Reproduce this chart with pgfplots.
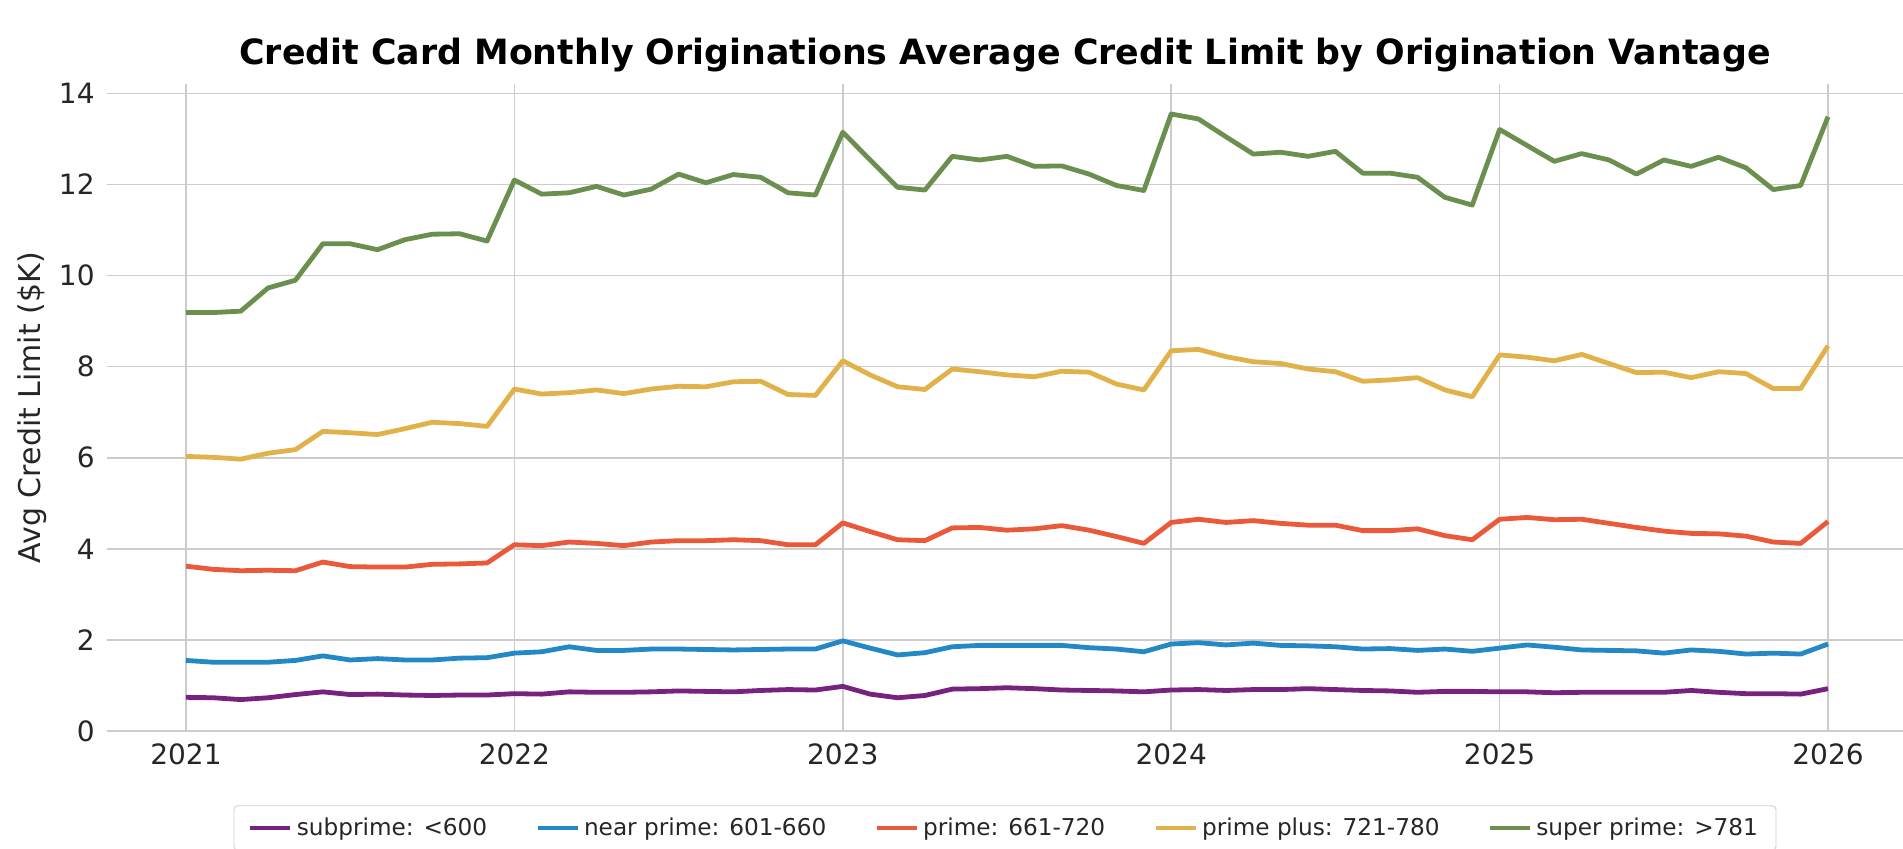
\documentclass[border=0pt]{standalone}
\usepackage{fontspec}
\setmainfont{DejaVu Sans}
\usepackage{pgfplots}
\pgfplotsset{compat=1.18}
\usepackage{pgfplotstable}
\definecolor{cSub}{HTML}{77227F}
\definecolor{cNear}{HTML}{2389C6}
\definecolor{cPrime}{HTML}{EA5A3A}
\definecolor{cPlus}{HTML}{E2B24A}
\definecolor{cSuper}{HTML}{6B8F4F}
\definecolor{gridc}{HTML}{CCCCCC}
\pgfplotstableread{
m p b r y g
0 0.74 1.55 3.62 6.03 9.19
1 0.73 1.51 3.55 6.01 9.19
2 0.69 1.51 3.52 5.97 9.22
3 0.73 1.51 3.53 6.10 9.73
4 0.80 1.55 3.52 6.18 9.90
5 0.86 1.65 3.71 6.58 10.70
6 0.80 1.56 3.61 6.55 10.70
7 0.81 1.59 3.60 6.51 10.57
8 0.79 1.56 3.60 6.64 10.79
9 0.78 1.56 3.66 6.78 10.91
10 0.79 1.60 3.67 6.75 10.92
11 0.79 1.61 3.69 6.69 10.76
12 0.82 1.71 4.09 7.51 12.10
13 0.81 1.74 4.07 7.40 11.79
14 0.86 1.85 4.15 7.43 11.82
15 0.85 1.77 4.12 7.49 11.96
16 0.85 1.77 4.07 7.41 11.77
17 0.86 1.80 4.15 7.51 11.90
18 0.88 1.80 4.18 7.57 12.23
19 0.87 1.79 4.18 7.56 12.04
20 0.86 1.78 4.20 7.67 12.22
21 0.89 1.79 4.18 7.68 12.16
22 0.91 1.80 4.09 7.39 11.82
23 0.90 1.80 4.09 7.37 11.77
24 0.98 1.98 4.57 8.13 13.15
25 0.81 1.82 4.38 7.82 12.54
26 0.73 1.67 4.20 7.56 11.94
27 0.78 1.72 4.18 7.50 11.88
28 0.92 1.85 4.46 7.95 12.62
29 0.93 1.88 4.47 7.89 12.54
30 0.95 1.88 4.41 7.82 12.62
31 0.93 1.88 4.44 7.78 12.40
32 0.90 1.88 4.51 7.90 12.41
33 0.89 1.83 4.41 7.88 12.23
34 0.88 1.80 4.27 7.62 11.98
35 0.86 1.74 4.12 7.49 11.87
36 0.90 1.91 4.58 8.35 13.55
37 0.91 1.94 4.65 8.38 13.44
38 0.89 1.89 4.58 8.22 13.05
39 0.91 1.93 4.62 8.11 12.67
40 0.91 1.88 4.56 8.07 12.71
41 0.93 1.87 4.52 7.95 12.62
42 0.91 1.85 4.52 7.89 12.73
43 0.89 1.80 4.40 7.68 12.25
44 0.88 1.81 4.40 7.71 12.25
45 0.85 1.77 4.44 7.76 12.16
46 0.87 1.80 4.29 7.49 11.72
47 0.87 1.75 4.20 7.34 11.55
48 0.86 1.82 4.65 8.26 13.21
49 0.86 1.89 4.69 8.21 12.86
50 0.84 1.84 4.64 8.13 12.51
51 0.85 1.78 4.65 8.27 12.68
52 0.85 1.77 4.56 8.07 12.54
53 0.85 1.76 4.47 7.87 12.23
54 0.85 1.71 4.39 7.88 12.54
55 0.89 1.78 4.34 7.76 12.40
56 0.85 1.75 4.33 7.89 12.60
57 0.82 1.69 4.28 7.85 12.37
58 0.82 1.71 4.15 7.52 11.89
59 0.81 1.69 4.12 7.52 11.98
60 0.93 1.91 4.60 8.46 13.49
}\data
\begin{document}
\begin{tikzpicture}
\useasboundingbox (-53.5pt,-58.5pt) rectangle (898pt,365.5pt);
\begin{axis}[
  at={(0pt,0pt)}, anchor=south west,
  scale only axis, width=898pt, height=323.3pt,
  xmin=-2.886, xmax=62.74, ymin=0, ymax=14.2,
  xtick={0,12,24,36,48,60},
  xticklabels={2021,2022,2023,2024,2025,2026},
  ytick={0,2,4,6,8,10,12,14},
  grid=major,
  major grid style={color=gridc, line width=0.75pt},
  axis line style={draw=none},
  major tick length=0pt,
  /pgf/number format/assume math mode=true,
  tick label style={font=\fontsize{14}{16}\selectfont, text=black!85},
  yticklabel style={inner sep=0pt, anchor=east, xshift=-6pt},
  xticklabel style={inner sep=0pt, anchor=north, yshift=-6.4pt},
  ylabel={Avg Credit Limit (\$K)},
  every axis y label/.style={at={(axis description cs:-0.0418,0.5)}, rotate=90, anchor=center, font=\fontsize{15}{18}\selectfont, text=black!85},
  title={Credit Card Monthly Originations Average Credit Limit by Origination Vantage},
  every axis title/.style={at={(axis description cs:0.5,1)}, anchor=base, yshift=10pt, font=\bfseries\fontsize{17.4}{20}\selectfont},
  legend columns=5,
  legend style={at={(axis description cs:0.5,-0.15)}, anchor=center,
    draw=gridc, rounded corners=2pt, fill=white,
    font=\fontsize{11.6}{13.5}\selectfont, text=black!85,
    /tikz/every even column/.append style={column sep=22pt},
    inner xsep=7pt, inner ysep=4pt},
  legend image code/.code={\draw[#1, line width=2.4pt] (0pt,0pt) -- (20pt,0pt);},
  every axis plot/.append style={line width=2.4pt, line join=round},
]
\addplot[cSub, no marks] table[x=m, y=p] {\data};
\addlegendentry{subprime: <600}
\addplot[cNear, no marks] table[x=m, y=b] {\data};
\addlegendentry{near prime: 601-660}
\addplot[cPrime, no marks] table[x=m, y=r] {\data};
\addlegendentry{prime: 661-720}
\addplot[cPlus, no marks] table[x=m, y=y] {\data};
\addlegendentry{prime plus: 721-780}
\addplot[cSuper, no marks] table[x=m, y=g] {\data};
\addlegendentry{super prime: >781}
\end{axis}
\end{tikzpicture}
\end{document}
